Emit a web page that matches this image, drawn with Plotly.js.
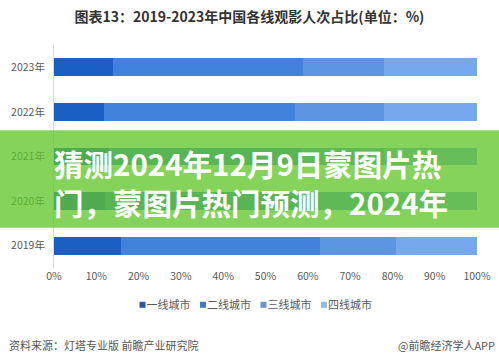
<!DOCTYPE html>
<html>
<head>
<meta charset="utf-8">
<script src="https://cdn.plot.ly/plotly-3.0.1.min.js"></script>
<style>
html,body{margin:0;padding:0;background:#fff;}
#chart{width:499px;height:363px;}
</style>
</head>
<body>
<div id="chart"></div>
<script>
const years = ['2019年', '2020年', '2021年', '2022年', '2023年'];
const seriesNames = ['一线城市', '二线城市', '三线城市', '四线城市'];
const tier1 = [15.8, 12.0, 13.0, 11.8, 13.9];
const tier2 = [47.2, 46.0, 45.5, 45.1, 45.0];
const tier3 = [17.9, 20.0, 19.5, 21.1, 19.1];
const tier4 = [19.1, 22.0, 22.0, 22.0, 22.0];
const xTickVals = [0, 10, 20, 30, 40, 50, 60, 70, 80, 90, 100];
const xTickText = ['0%', '10%', '20%', '30%', '40%', '50%', '60%', '70%', '80%', '90%', '100%'];
const titleText = '图表13：2019-2023年中国各线观影人次占比(单位：%)';
const overlayLine1 = '猜测2024年12月9日蒙图片热';
const overlayLine2 = '门，蒙图片热门预测，2024年';
const sourceLeft = '资料来源：灯塔专业版 前瞻产业研究院';
const sourceRight = '@前瞻经济学人APP';

const colors = ['#1b5ec4', '#4182dc', '#5c95e2', '#77a8ec'];
const legendColors = ['#2a55a8', '#3d7cc9', '#6596d2', '#94b9e3'];
const values = [tier1, tier2, tier3, tier4];
const FONT = '"Microsoft YaHei", "Noto Sans CJK SC", "Noto Sans", sans-serif';

const traces = values.map((v, i) => ({
  type: 'bar',
  orientation: 'h',
  name: seriesNames[i],
  y: years,
  x: v,
  marker: {color: colors[i], line: {width: 0}},
  hoverinfo: 'x+name'
}));

const layout = {
  width: 499, height: 363,
  margin: {l: 54, r: 22, t: 45, b: 95},
  paper_bgcolor: '#ffffff',
  plot_bgcolor: '#ffffff',
  barmode: 'stack',
  bargap: 0.6,
  font: {family: FONT, color: '#595959', size: 11},
  title: {
    text: '<b>' + titleText + '</b>',
    font: {family: FONT, size: 14, color: '#333333'},
    x: 0.5, xanchor: 'center', y: 0.953, yanchor: 'middle', yref: 'container'
  },
  xaxis: {
    range: [0, 100],
    tickvals: xTickVals,
    ticktext: xTickText,
    showgrid: false,
    zeroline: false,
    showline: false,
    ticks: '',
    tickfont: {size: 10.5, color: '#595959'},
    fixedrange: true
  },
  yaxis: {
    categoryorder: 'array',
    categoryarray: years,
    showgrid: false,
    zeroline: false,
    showline: true,
    linecolor: '#d9d9d9',
    linewidth: 1,
    ticks: '',
    ticklabelstandoff: 6,
    tickfont: {size: 10.5, color: '#595959'},
    fixedrange: true
  },
  showlegend: true,
  legend: {
    orientation: 'h',
    x: 0.13, xanchor: 'left',
    y: -0.165, yanchor: 'middle',
    font: {size: 11, color: '#595959'},
    traceorder: 'normal',
    itemwidth: 30,
    entrywidth: 20.5,
    entrywidthmode: 'pixels',
    tracegroupgap: 0
  },
  shapes: [{
    type: 'rect', layer: 'above',
    xref: 'paper', yref: 'paper',
    x0: -0.2, x1: 1.2,
    y0: (268.4 - 228) / 224, y1: (268.4 - 130) / 224,
    fillcolor: 'rgba(96,197,41,0.76)',
    line: {width: 0}
  }],
  annotations: [
    {
      text: '<b>' + overlayLine1 + '</b>',
      xref: 'paper', yref: 'paper',
      x: (52 - 54) / 423, xanchor: 'left',
      y: (268.4 - 163) / 224, yanchor: 'middle',
      showarrow: false,
      font: {family: '"Noto Sans CJK SC", sans-serif', size: 29.5, color: '#ffffff'}
    },
    {
      text: '<b>' + overlayLine2 + '</b>',
      xref: 'paper', yref: 'paper',
      x: (52 - 54) / 423, xanchor: 'left',
      y: (268.4 - 202) / 224, yanchor: 'middle',
      showarrow: false,
      font: {family: '"Noto Sans CJK SC", sans-serif', size: 29.5, color: '#ffffff'}
    },
    {
      text: sourceLeft,
      xref: 'paper', yref: 'paper',
      x: (7 - 54) / 423, xanchor: 'left',
      y: (268.4 - 346) / 224, yanchor: 'middle',
      showarrow: false,
      font: {size: 11, color: '#555555'}
    },
    {
      text: sourceRight,
      xref: 'paper', yref: 'paper',
      x: (497 - 54) / 423, xanchor: 'right',
      y: (268.4 - 346) / 224, yanchor: 'middle',
      showarrow: false,
      font: {size: 11, color: '#555555'}
    }
  ]
};

// pixel centres of the legend swatches in the reference layout
const legendSwatchX = [142.5, 203, 263.5, 324];

Plotly.newPlot('chart', traces, layout, {displayModeBar: false, staticPlot: true}).then(gd => {
  gd.querySelectorAll('.legend .scrollbox, .legend').forEach(el => el.removeAttribute('clip-path'));
  gd.querySelectorAll('.legend .traces').forEach((tr, i) => {
    const pts = tr.querySelector('.legendpoints');
    if (pts) pts.setAttribute('transform', 'translate(16,0)');
    const paths = tr.querySelectorAll('.legendpoints path');
    paths.forEach(p => {
      p.setAttribute('d', 'M3,3H-3V-3H3Z');
      p.style.fill = legendColors[i];
      p.style.stroke = 'none';
    });
    if (paths.length) {
      const r = paths[0].getBoundingClientRect();
      const cx = (r.left + r.right) / 2;
      const delta = legendSwatchX[i] - cx;
      const t = tr.getAttribute('transform') || '';
      const m = t.match(/translate\(\s*([-\d.e]+)[ ,]+([-\d.e]+)\s*\)/);
      const tx = m ? parseFloat(m[1]) : 0;
      const ty = m ? parseFloat(m[2]) : 0;
      tr.setAttribute('transform', 'translate(' + (tx + delta) + ',' + ty + ')');
    }
  });
});
</script>
</body>
</html>
